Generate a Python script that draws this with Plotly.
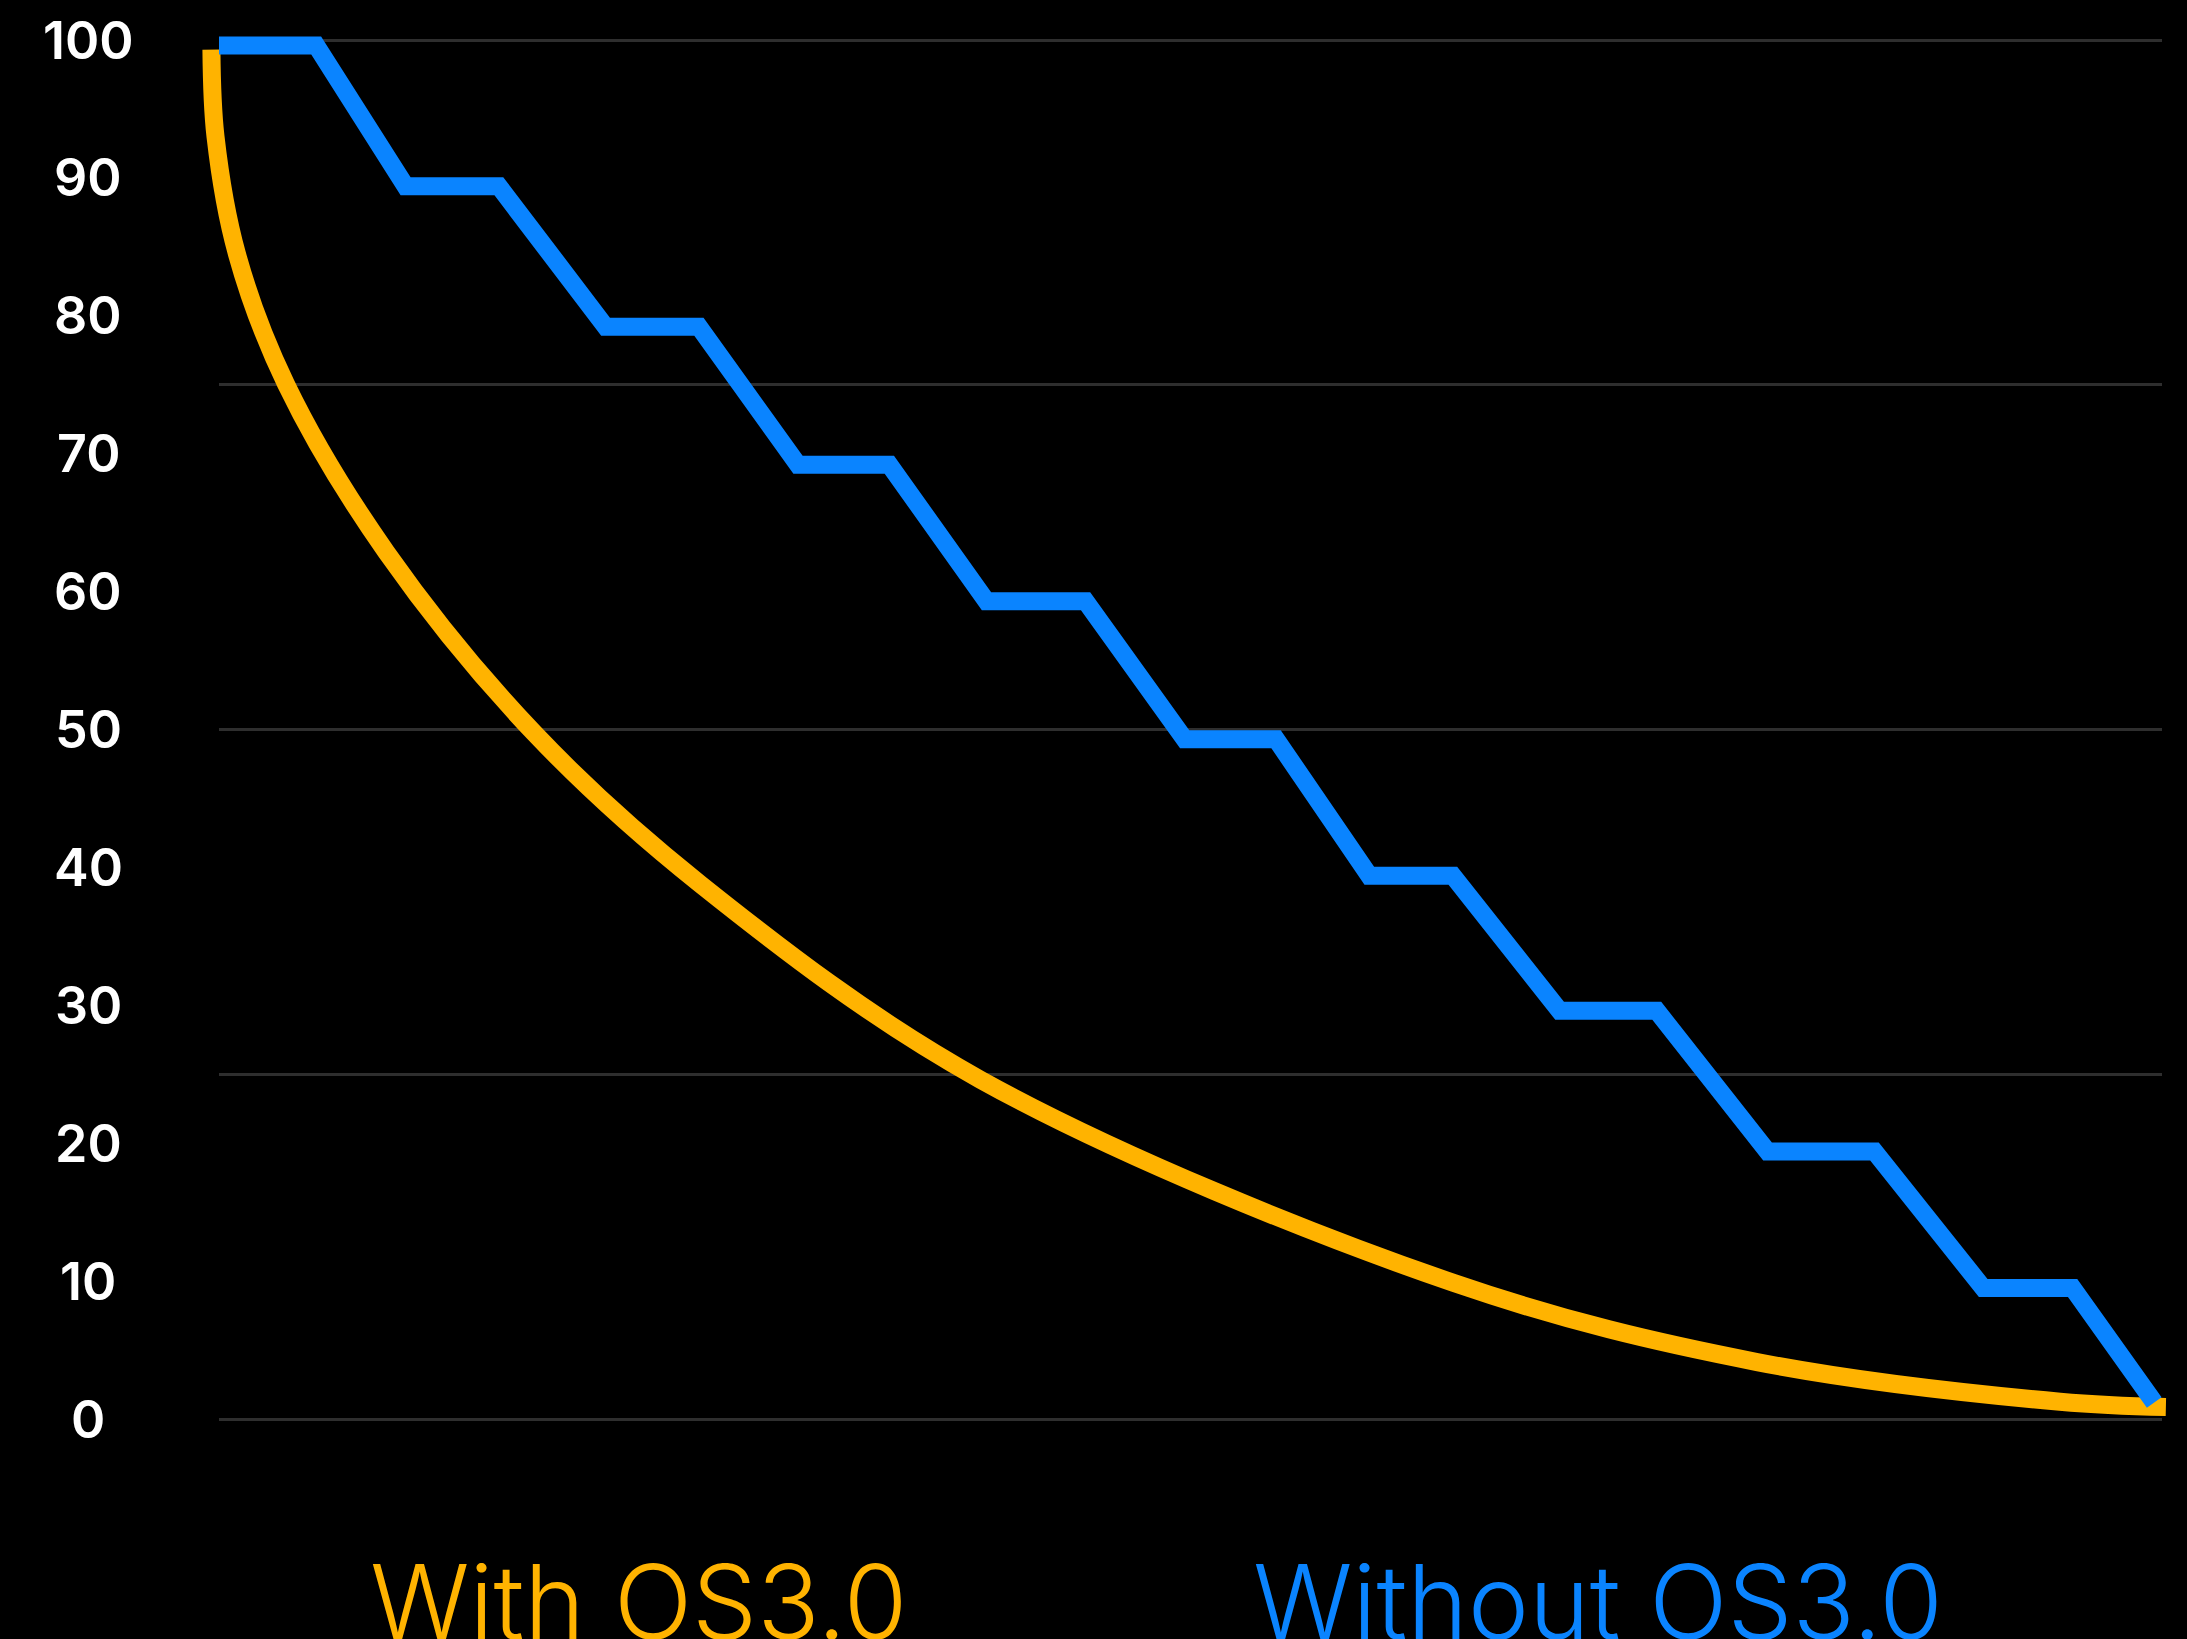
import plotly.graph_objects as go

# ---- data ----
without_x = [0, 5.0, 9.6, 14.4, 19.9, 24.7, 29.8, 34.5, 39.5, 44.6, 49.7, 54.4,
             59.2, 63.5, 69.0, 74.0, 79.7, 85.2, 90.8, 95.4, 99.6]
without_y = [99.6, 99.6, 89.4, 89.4, 79.2, 79.2, 69.2, 69.2, 59.3, 59.3, 49.3, 49.3,
             39.4, 39.4, 29.6, 29.6, 19.4, 19.4, 9.5, 9.5, 1.2]

with_x = [-0.39, -0.18, 0.92, 3.45, 8.62, 16.21, 24.76, 39.2, 63.56, 79.16, 94.75, 100.2]
with_y = [99.3, 93.0, 84.5, 75.05, 62.85, 49.76, 38.8, 24.6, 9.86, 4.13, 1.25, 0.87]

tick_values = [0, 10, 20, 30, 40, 50, 60, 70, 80, 90, 100]
tick_labels = ["0", "10", "20", "30", "40", "50", "60", "70", "80", "90", "100"]
grid_values = [0, 25, 50, 75, 100]

series_names = ["With OS3.0", "Without OS3.0"]

# ---- styling / layout geometry ----
W, H = 2187, 1639
YELLOW = "#FFB300"
BLUE = "#0A84FF"
GRID = "#2E2E2E"

grid_left_px, grid_right_px = 219, 2162   # x=0 and x=100
y100_px, y0_px = 40, 1419                 # y=100 and y=0
top_px, bottom_px = 20, 1460              # plot area

px_per_x = (grid_right_px - grid_left_px) / 100.0
px_per_y = (y0_px - y100_px) / 100.0
y_hi = 100 + (y100_px - top_px) / px_per_y
y_lo = 0 - (bottom_px - y0_px) / px_per_y
x2_lo = (0 - grid_left_px) / px_per_x
x2_hi = (W - grid_left_px) / px_per_x

fig = go.Figure()

fig.add_trace(go.Scatter(
    x=with_x, y=with_y, mode="lines", name=series_names[0],
    line=dict(color=YELLOW, width=18, shape="spline", smoothing=1.0),
    xaxis="x2", yaxis="y2", hoverinfo="skip"))

fig.add_trace(go.Scatter(
    x=without_x, y=without_y, mode="lines", name=series_names[1],
    line=dict(color=BLUE, width=18),
    xaxis="x2", yaxis="y2", hoverinfo="skip"))

annotations = []
for v, t in zip(tick_values, tick_labels):
    annotations.append(dict(
        x=88 / W, xref="paper", y=v, yref="y", text=t, showarrow=False,
        xanchor="center", yanchor="middle",
        font=dict(family="Inter, Lato, sans-serif", size=52, color="white", weight=600)))

label_centers = [638, 1598]
label_colors = [YELLOW, BLUE]
label_mid_px = 1601
for name, cx, col in zip(series_names, label_centers, label_colors):
    annotations.append(dict(
        x=cx / W, xref="paper",
        y=(bottom_px - label_mid_px) / (bottom_px - top_px), yref="paper",
        text=name, showarrow=False, xanchor="center", yanchor="middle",
        font=dict(family="Inter, Lato, sans-serif", size=103, color=col, weight=300)))

fig.update_layout(
    width=W, height=H,
    paper_bgcolor="black", plot_bgcolor="rgba(0,0,0,0)",
    margin=dict(l=0, r=0, t=top_px, b=H - bottom_px, pad=0),
    showlegend=False,
    xaxis=dict(domain=[grid_left_px / W, grid_right_px / W], range=[0, 100],
               showgrid=False, zeroline=False, showticklabels=False, showline=False),
    yaxis=dict(range=[y_lo, y_hi], tickmode="array", tickvals=grid_values,
               showgrid=True, gridcolor=GRID, gridwidth=3, zeroline=False,
               showticklabels=False, showline=False),
    xaxis2=dict(domain=[0, 1], range=[x2_lo, x2_hi], anchor="y2",
                showgrid=False, zeroline=False, showticklabels=False, showline=False),
    yaxis2=dict(domain=[0, 1], range=[y_lo, y_hi], anchor="x2",
                showgrid=False, zeroline=False, showticklabels=False, showline=False),
    annotations=annotations,
)

fig.write_html(
    "out.html",
    config={"displayModeBar": False},
    post_script="document.body.style.margin='0';document.body.style.background='black';"
                "document.body.style.overflow='hidden';")
